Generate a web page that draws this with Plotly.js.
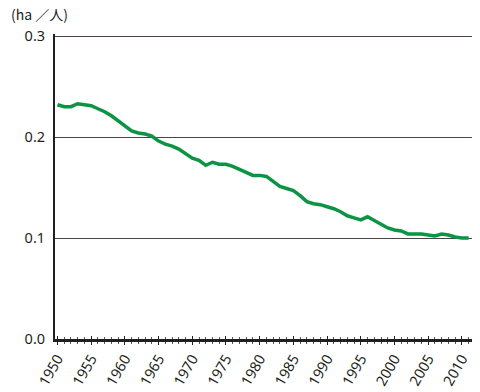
<!DOCTYPE html>
<html><head><meta charset="utf-8">
<script src="https://cdn.plot.ly/plotly-3.0.1.min.js"></script>
<style>html,body{margin:0;padding:0;background:#fff}#chart{width:480px;height:392px}</style>
</head><body><div id="chart"></div>
<script>
const years = [];
for (let y = 1950; y <= 2011; y++) years.push(y);
const areaPerPerson = [
 0.232,0.230,0.230,0.233,0.232,0.231,0.228,0.225,0.221,0.216,
 0.211,0.206,0.204,0.203,0.201,0.196,0.193,0.191,0.188,0.184,
 0.179,0.177,0.172,0.175,0.173,0.173,0.171,0.168,0.165,0.162,
 0.162,0.161,0.156,0.151,0.149,0.147,0.142,0.136,0.134,0.133,
 0.131,0.129,0.126,0.122,0.120,0.118,0.121,0.117,0.114,0.110,
 0.108,0.107,0.104,0.104,0.104,0.103,0.102,0.104,0.103,0.101,
 0.100,0.100
];
const yTicks = [0, 0.1, 0.2, 0.3];
const yTickText = ['0.0','0.1','0.2','0.3'];
const xTicks = [1950,1955,1960,1965,1970,1975,1980,1985,1990,1995,2000,2005,2010];
const unitLabel = '(ha ／人)';

const font = {family: '"Noto Sans", "Noto Sans CJK JP", sans-serif', size: 14.5, color: '#231f20'};
const xRange = [1949.63, 2011.5];

const trace = {
  x: years, y: areaPerPerson, type: 'scatter', mode: 'lines',
  line: {color: '#0b9444', width: 3.5, shape: 'linear'},
  hoverinfo: 'skip'
};
const ghost = {
  x: years, y: areaPerPerson, xaxis: 'x2', type: 'scatter', mode: 'lines',
  line: {width: 0}, opacity: 0, hoverinfo: 'skip', showlegend: false
};

const layout = {
  width: 480, height: 392,
  margin: {l: 55, r: 8, t: 34, b: 53},
  paper_bgcolor: '#fff', plot_bgcolor: '#fff',
  showlegend: false,
  font: font,
  xaxis: {
    range: xRange, tickvals: xTicks, ticktext: xTicks.map(String),
    tickangle: -60, tickfont: font,
    showgrid: false, zeroline: false,
    showline: true, linecolor: '#231f20', linewidth: 2.5,
    ticks: 'outside', ticklen: 3, tickwidth: 1, tickcolor: '#231f20',
    minor: {dtick: 1, tick0: 1950, ticks: 'outside', ticklen: 2, tickwidth: 1, tickcolor: '#555', showgrid: false},
    fixedrange: true
  },
  xaxis2: {
    overlaying: 'x', anchor: 'y', side: 'bottom', range: xRange,
    tickvals: xTicks, showticklabels: false, showgrid: false, zeroline: false,
    showline: false, ticks: 'inside', ticklen: 3, tickwidth: 1, tickcolor: '#231f20',
    minor: {dtick: 1, tick0: 1950, ticks: 'inside', ticklen: 2, tickwidth: 1, tickcolor: '#555', showgrid: false},
    fixedrange: true
  },
  yaxis: {
    range: [0, 0.302], tickvals: yTicks, ticktext: yTickText, tickfont: font,
    showgrid: true, gridcolor: '#4a4444', gridwidth: 1,
    zeroline: false, showline: true, linecolor: '#231f20', linewidth: 2,
    ticks: '', ticklabelstandoff: 5, fixedrange: true
  },
  annotations: [{
    text: unitLabel, xref: 'paper', yref: 'paper',
    x: -0.11, y: 1.065, xanchor: 'left', yanchor: 'middle',
    showarrow: false, font: {family: '"Noto Sans CJK JP", "Noto Sans", sans-serif', size: 14, color: '#231f20'}
  }]
};
Plotly.newPlot('chart', [trace, ghost], layout, {displayModeBar: false, staticPlot: true});
</script></body></html>
